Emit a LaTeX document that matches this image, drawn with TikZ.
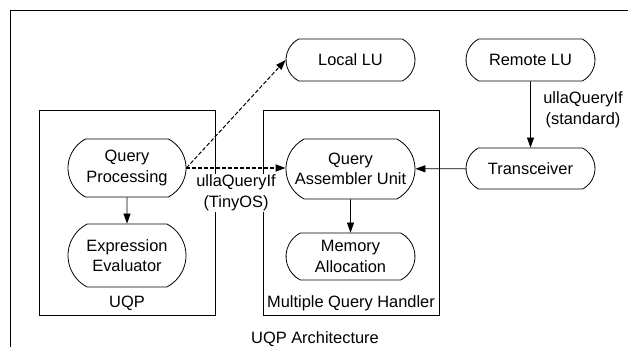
\documentclass[tikz,border=0pt]{standalone}
\usepackage{fontspec}
\setmainfont{Liberation Sans}
\usetikzlibrary{arrows.meta}
\usetikzlibrary{shapes.misc}

\begin{document}
\begin{tikzpicture}[x=1pt, y=-1pt, line width=0.8pt,
    >={Triangle[length=10pt,width=7pt]},
    every node/.style={font=\fontsize{16.4}{20.5}\selectfont},
    unit/.style={draw, rounded rectangle, rounded rectangle arc length=125, align=center, inner sep=0pt, fill=white},
    lbl/.style={fill=white, align=center, inner sep=1pt},
    dashedarrow/.style={->, dash pattern=on 4pt off 2pt}]
    \useasboundingbox (0,0) rectangle (629,347);
    % outer frame
    \draw (628,10) -- (10,10) -- (10,347);
    % groups
    \draw (39,110) rectangle (215,315);
    \draw (263,110) rectangle (439,315);
    \node (uqplabel) at (127,303) {UQP};
    \node (mqhlabel) at (351,303) {Multiple Query Handler};
    \node[lbl] (tinyos) at (236,193) {ullaQueryIf\\(TinyOS)};
    % units
    \node[unit, minimum width=118pt, minimum height=58pt] (qp) at (127,168) {Query\\Processing};
    \node[unit, minimum width=118pt, minimum height=63pt] (ee) at (127,255.5) {Expression\\Evaluator};
    \node[unit, minimum width=129pt, minimum height=60pt] (qau) at (350.5,169) {Query\\Assembler Unit};
    \node[unit, minimum width=129pt, minimum height=47pt] (mem) at (350.5,256.5) {Memory\\Allocation};
    \node[unit, minimum width=129pt, minimum height=42pt] (local) at (350.5,60) {Local LU};
    \node[unit, minimum width=129pt, minimum height=42pt] (remote) at (530.5,60) {Remote LU};
    \node[unit, minimum width=129pt, minimum height=41pt] (trx) at (530.5,168.5) {Transceiver};
    \node[align=center] (standard) at (583,110) {ullaQueryIf\\(standard)};
    % arrows
    \draw[->] (qp) -- (ee);
    \draw[->] (qau) -- (mem);
    \draw[->] (remote) -- (trx);
    \draw[->] (trx) -- (qau);
    \draw[dashedarrow, line width=1.4pt] (qp.east) -- (qp.east -| qau.west);
    \draw[dashedarrow, line width=1pt] (qp.east) -- (local.west);
    \node (title) at (315,339) {UQP Architecture};
\end{tikzpicture}
\end{document}
